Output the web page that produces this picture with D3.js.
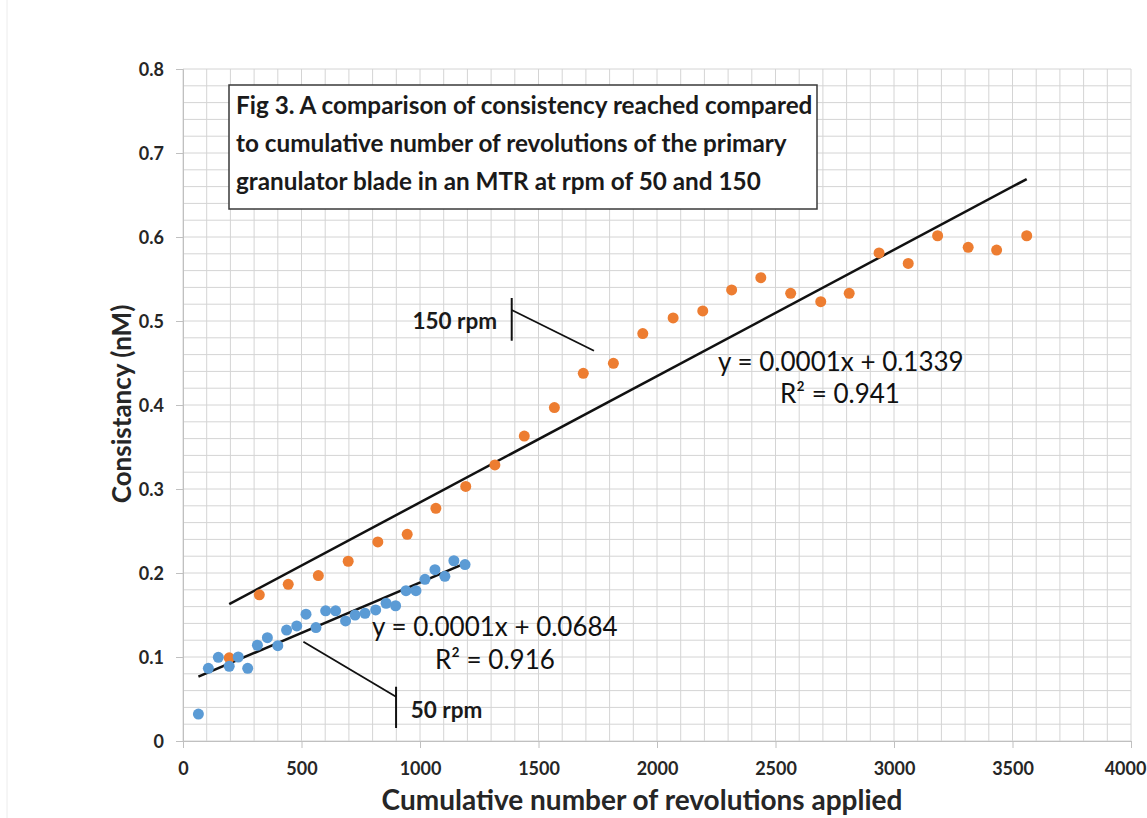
<!DOCTYPE html>
<html>
<head>
<meta charset="utf-8">
<script src="https://cdn.jsdelivr.net/npm/d3@7/dist/d3.min.js"></script>
<style>
  html, body { margin: 0; padding: 0; background: #fff; }
  svg { display: block; }
</style>
</head>
<body>
<svg id="chart"></svg>
<script>
// tick labels
const xTicks = [0, 500, 1000, 1500, 2000, 2500, 3000, 3500, 4000]
const yTicks = [0, 0.1, 0.2, 0.3, 0.4, 0.5, 0.6, 0.7, 0.8]

// 50 rpm series (blue)
const rpm50X = [65, 107, 149, 195, 233, 273, 314, 356, 400, 437, 480, 519, 561, 602,
  644, 686, 726, 768, 813, 857, 897, 941, 983, 1021, 1063, 1105, 1143, 1190]
const rpm50Y = [0.032, 0.0865, 0.0996, 0.089, 0.100, 0.0865, 0.114, 0.123, 0.1135, 0.132,
  0.137, 0.151, 0.135, 0.155, 0.155, 0.143, 0.150, 0.152, 0.156, 0.164, 0.161, 0.179,
  0.179, 0.1925, 0.204, 0.196, 0.2146, 0.210]

// 150 rpm series (orange)
const rpm150X = [195, 322, 444, 571, 697, 822, 946, 1067, 1193, 1316, 1440, 1567, 1689,
  1816, 1940, 2068, 2193, 2315, 2438, 2564, 2691, 2811, 2937, 3060, 3184, 3313, 3433, 3560]
const rpm150Y = [0.099, 0.174, 0.1865, 0.197, 0.214, 0.237, 0.246, 0.277, 0.303, 0.3286,
  0.363, 0.397, 0.4377, 0.4496, 0.485, 0.5036, 0.512, 0.537, 0.5516, 0.533, 0.523, 0.533,
  0.581, 0.5686, 0.6015, 0.5877, 0.5845, 0.6015]

// linear trendline end points
const trend50 = [[65, 0.0766], [1190, 0.2115]]
const trend150 = [[195, 0.163], [3560, 0.669]]

const titleLines = [
  'Fig 3. A comparison of consistency reached compared',
  'to cumulative number of revolutions of the primary',
  'granulator blade in an MTR at rpm of 50 and 150'
]

const W = 1147
const H = 818
const FONT = 'Lato, "Open Sans", sans-serif'

const svg = d3.select('#chart')
  .attr('width', W)
  .attr('height', H)

// scales
const xScale = d3.scaleLinear().domain([0, 4000]).range([183, 1131])
const yScale = d3.scaleLinear().domain([0, 0.8]).range([741, 69])

// faint outer border of the chart object
svg.append('line')
  .attr('x1', 7).attr('x2', 7)
  .attr('y1', 0).attr('y2', H)
  .attr('stroke', '#ececec')

// gridlines, every 100 revolutions and every 0.02
const grid = svg.append('g').attr('class', 'grid')
grid.selectAll('.vgrid')
  .data(xScale.ticks(40))
  .enter().append('line')
  .attr('x1', d => xScale(d)).attr('x2', d => xScale(d))
  .attr('y1', yScale(0)).attr('y2', yScale(0.8))
  .attr('stroke', '#d4d4d4')
  .attr('stroke-width', 1)
grid.selectAll('.hgrid')
  .data(yScale.ticks(40))
  .enter().append('line')
  .attr('x1', xScale(0)).attr('x2', xScale(4000))
  .attr('y1', d => yScale(d)).attr('y2', d => yScale(d))
  .attr('stroke', '#d4d4d4')
  .attr('stroke-width', 1)

// axes
const xAxis = d3.axisBottom(xScale)
  .tickValues(xTicks)
  .tickFormat(d3.format('d'))
  .tickSize(7)
  .tickPadding(14)
const yAxis = d3.axisLeft(yScale)
  .tickValues(yTicks)
  .tickFormat(d => d === 0 ? '0' : d3.format('.1f')(d))
  .tickSize(7)
  .tickPadding(12)

const gx = svg.append('g')
  .attr('transform', `translate(0, ${yScale(0)})`)
  .call(xAxis)
const gy = svg.append('g')
  .attr('transform', `translate(${xScale(0)}, 0)`)
  .call(yAxis)

;[gx, gy].forEach(g => {
  g.select('.domain').attr('stroke', '#c0c0c0')
  g.selectAll('.tick line').attr('stroke', '#c0c0c0')
  g.selectAll('.tick text')
    .attr('fill', '#262626')
    .style('font-family', FONT)
    .style('font-weight', 'bold')
    .style('font-size', '18px')
})
gy.selectAll('.tick text').attr('dy', '0.36em')
// last x label sits a little inside the edge, as in the reference
gx.selectAll('.tick text').filter(d => d === 4000).attr('dx', -6)

// trendlines
const line = d3.line().x(d => xScale(d[0])).y(d => yScale(d[1]))
svg.append('path')
  .datum(trend150)
  .attr('d', line)
  .attr('fill', 'none')
  .attr('stroke', '#111')
  .attr('stroke-width', 2.5)
svg.append('path')
  .datum(trend50)
  .attr('d', line)
  .attr('fill', 'none')
  .attr('stroke', '#111')
  .attr('stroke-width', 2.5)

// points
svg.append('g')
  .selectAll('circle')
  .data(rpm150X.map((x, i) => [x, rpm150Y[i]]))
  .enter().append('circle')
  .attr('cx', d => xScale(d[0]))
  .attr('cy', d => yScale(d[1]))
  .attr('r', 5.5)
  .attr('fill', '#ED7D31')
svg.append('g')
  .selectAll('circle')
  .data(rpm50X.map((x, i) => [x, rpm50Y[i]]))
  .enter().append('circle')
  .attr('cx', d => xScale(d[0]))
  .attr('cy', d => yScale(d[1]))
  .attr('r', 5.5)
  .attr('fill', '#5B9BD5')

// title box
const box = svg.append('g')
box.append('rect')
  .attr('x', 229).attr('y', 85)
  .attr('width', 588).attr('height', 124)
  .attr('fill', '#fff')
  .attr('stroke', '#3a3a3a')
  .attr('stroke-width', 1.5)
box.selectAll('text')
  .data(titleLines)
  .enter().append('text')
  .attr('x', 236)
  .attr('y', (d, i) => 114 + i * 38)
  .attr('fill', '#1a1a1a')
  .style('font-family', FONT)
  .style('font-weight', 'bold')
  .style('font-size', '24.3px')
  .text(d => d)

// equation labels
const eqStyle = sel => sel
  .attr('text-anchor', 'middle')
  .attr('fill', '#111')
  .style('font-family', FONT)
  .style('font-size', '26px')

svg.append('text').call(eqStyle)
  .attr('x', xScale(2776)).attr('y', yScale(0.451) + 9)
  .text('y = 0.0001x + 0.1339')
svg.append('text').call(eqStyle)
  .attr('x', xScale(2772)).attr('y', yScale(0.413) + 9)
  .text('R² = 0.941')
svg.append('text').call(eqStyle)
  .attr('x', xScale(1316)).attr('y', yScale(0.1357) + 9)
  .text('y = 0.0001x + 0.0684')
svg.append('text').call(eqStyle)
  .attr('x', xScale(1316)).attr('y', yScale(0.0964) + 9)
  .text('R² = 0.916')

// callouts
const callout = (barX, barY0, barY1, from, to) => {
  svg.append('line')
    .attr('x1', xScale(barX)).attr('x2', xScale(barX))
    .attr('y1', yScale(barY0)).attr('y2', yScale(barY1))
    .attr('stroke', '#111').attr('stroke-width', 2)
  svg.append('line')
    .attr('x1', xScale(from[0])).attr('y1', yScale(from[1]))
    .attr('x2', xScale(to[0])).attr('y2', yScale(to[1]))
    .attr('stroke', '#111').attr('stroke-width', 1.8)
}
callout(1387, 0.5274, 0.4765, [1387, 0.5131], [1734, 0.4646])
callout(899, 0.0646, 0.0155, [508, 0.1182], [899, 0.0527])

svg.append('text')
  .attr('x', xScale(1325)).attr('y', yScale(0.5004) + 8)
  .attr('text-anchor', 'end')
  .attr('fill', '#1a1a1a')
  .style('font-family', FONT)
  .style('font-weight', 'bold')
  .style('font-size', '22.5px')
  .text('150 rpm')
svg.append('text')
  .attr('x', xScale(961)).attr('y', yScale(0.0369) + 8)
  .attr('fill', '#1a1a1a')
  .style('font-family', FONT)
  .style('font-weight', 'bold')
  .style('font-size', '22.5px')
  .text('50 rpm')

// axis titles
svg.append('text')
  .attr('x', 642).attr('y', 810)
  .attr('text-anchor', 'middle')
  .attr('fill', '#262626')
  .style('font-family', FONT)
  .style('font-weight', 'bold')
  .style('font-size', '28px')
  .text('Cumulative number of revolutions applied')
svg.append('text')
  .attr('transform', 'translate(131, 404) rotate(-90)')
  .attr('text-anchor', 'middle')
  .attr('fill', '#262626')
  .style('font-family', FONT)
  .style('font-weight', 'bold')
  .style('font-size', '26px')
  .text('Consistancy (nM)')
</script>
</body>
</html>
